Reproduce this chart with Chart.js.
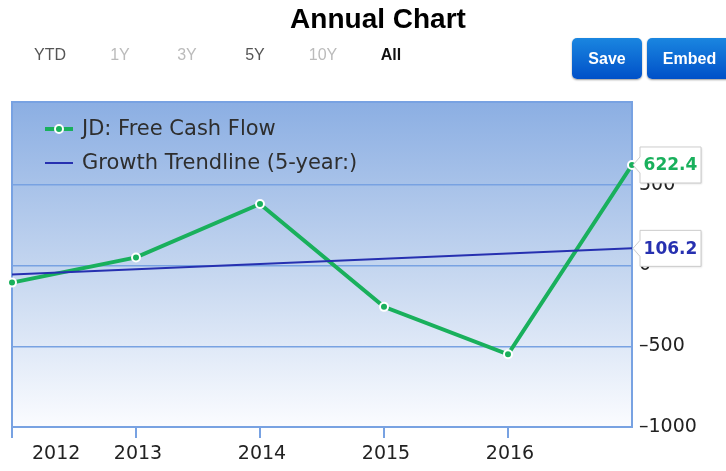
<!DOCTYPE html>
<html>
<head>
<meta charset="utf-8">
<script src="https://cdn.jsdelivr.net/npm/chart.js@4.4.0/dist/chart.umd.min.js"></script>
<style>
  body { margin: 0; background: #fff; width: 726px; height: 471px; overflow: hidden; position: relative; font-family: "Liberation Sans", Arial, sans-serif; }
  #chart { position: absolute; left: 0; top: 0; }
  h1 { position: absolute; left: 0; width: 756px; top: 3px; margin: 0; text-align: center; font-size: 28px; font-weight: bold; color: #000; }
  .range { position: absolute; top: 46px; font-family: "Liberation Sans Narrow", "Liberation Sans", Arial, sans-serif; font-size: 16px; transform: translateX(-50%); color: #555; }
  .range.off { color: #bbb; }
  .range.on { color: #111; font-weight: bold; }
  .btn { position: absolute; top: 38px; height: 41px; line-height: 41px; border-radius: 5px; color: #fff; font-weight: bold; font-size: 16px; text-align: center;
         font-family: "Liberation Sans Narrow", "Liberation Sans", Arial, sans-serif;
         background: linear-gradient(#1a86e0, #0050c8); box-shadow: 0 1px 2px rgba(0,0,0,0.4); }
</style>
</head>
<body>
<canvas id="chart" width="726" height="471"></canvas>
<h1>Annual Chart</h1>
<span class="range" style="left:50px">YTD</span>
<span class="range off" style="left:120px">1Y</span>
<span class="range off" style="left:187px">3Y</span>
<span class="range" style="left:255px">5Y</span>
<span class="range off" style="left:323px">10Y</span>
<span class="range on" style="left:391px">All</span>
<div class="btn" style="left:572px;width:70px">Save</div>
<div class="btn" style="left:647px;width:85px">Embed</div>
<script>
const years = ['2012', '2013', '2014', '2015', '2016', '2017'];
const xTickLabels = ['2012', '2013', '2014', '2015', '2016'];
const freeCashFlow = [-106, 50, 381, -256, -550, 622.4];
const trendline = [-56, -23.6, 8.8, 41.4, 73.8, 106.2];
const seriesNames = ['JD: Free Cash Flow', 'Growth Trendline (5-year:)'];

const green = '#19b05c';
const blue = '#2630b0';
const gridBlue = '#78a2e2';

// gradient behind the plot, plus the left/top frame lines
const plotBackground = {
    id: 'plotBackground',
    beforeDraw(chart) {
        const { ctx, chartArea: a } = chart;
        const g = ctx.createLinearGradient(0, a.top, 0, a.bottom);
        g.addColorStop(0, '#8cafe3');
        g.addColorStop(0.5, '#c3d5ef');
        g.addColorStop(1, '#fbfcff');
        ctx.save();
        ctx.fillStyle = g;
        ctx.fillRect(a.left, a.top - 2, a.right - a.left, a.bottom - a.top + 2);
        ctx.restore();
    },
    beforeDatasetsDraw(chart) {
        const { ctx, chartArea: a } = chart;
        ctx.save();
        ctx.strokeStyle = gridBlue;
        ctx.lineWidth = 2;
        ctx.beginPath();
        ctx.moveTo(a.left, a.bottom);
        ctx.lineTo(a.left, a.top - 2);
        ctx.lineTo(a.right, a.top - 2);
        ctx.lineTo(a.right, a.top);
        ctx.stroke();
        ctx.restore();
    }
};

// x labels, first one nudged inside like the original
const xLabels = {
    id: 'xLabels',
    afterDraw(chart) {
        const { ctx, chartArea: a } = chart;
        const x = chart.scales.x;
        ctx.save();
        ctx.font = '19px "DejaVu Sans"';
        ctx.fillStyle = '#222';
        ctx.textAlign = 'center';
        ctx.textBaseline = 'middle';
        xTickLabels.forEach((lab, i) => {
            let px = x.getPixelForTick(i) + 2;
            const w = ctx.measureText(lab).width;
            px = Math.max(px, a.left + 20 + w / 2);
            ctx.fillText(lab, px, a.bottom + 27);
        });
        ctx.restore();
    }
};

// legend inside the plot area
const insideLegend = {
    id: 'insideLegend',
    afterDatasetsDraw(chart) {
        const { ctx, chartArea: a } = chart;
        ctx.save();
        chart.data.datasets.forEach((ds, i) => {
            const y = a.top + 25 + i * 34;
            const x0 = a.left + 33;
            ctx.strokeStyle = ds.borderColor;
            ctx.lineWidth = ds.borderWidth;
            ctx.beginPath();
            ctx.moveTo(x0, y);
            ctx.lineTo(x0 + 28, y);
            ctx.stroke();
            if (ds.pointRadius > 0) {
                ctx.beginPath();
                ctx.arc(x0 + 14, y, ds.pointRadius, 0, Math.PI * 2);
                ctx.fillStyle = ds.pointBackgroundColor;
                ctx.fill();
                ctx.lineWidth = ds.pointBorderWidth;
                ctx.strokeStyle = ds.pointBorderColor;
                ctx.stroke();
            }
            ctx.font = '21px "DejaVu Sans"';
            ctx.fillStyle = '#2e2e2e';
            ctx.textBaseline = 'middle';
            ctx.textAlign = 'left';
            ctx.fillText(ds.label, x0 + 37, y + 1);
        });
        ctx.restore();
    }
};

// callout with the last value of each series
const lastValueTags = {
    id: 'lastValueTags',
    afterDraw(chart) {
        const { ctx } = chart;
        ctx.save();
        chart.data.datasets.forEach((ds, i) => {
            const meta = chart.getDatasetMeta(i);
            const pt = meta.data[meta.data.length - 1];
            const v = ds.data[ds.data.length - 1];
            const x = pt.x + 1, y = pt.y;
            const l = x + 7, r = x + 68, t = y - 18, b = y + 18;
            ctx.beginPath();
            ctx.moveTo(x, y);
            ctx.lineTo(l, y - 8);
            ctx.lineTo(l, t);
            ctx.lineTo(r, t);
            ctx.lineTo(r, b);
            ctx.lineTo(l, b);
            ctx.lineTo(l, y + 8);
            ctx.closePath();
            ctx.shadowColor = 'rgba(0,0,0,0.15)';
            ctx.shadowOffsetX = 1;
            ctx.shadowOffsetY = 1;
            ctx.shadowBlur = 2;
            ctx.fillStyle = '#fff';
            ctx.fill();
            ctx.shadowColor = 'transparent';
            ctx.strokeStyle = '#cccccc';
            ctx.lineWidth = 1;
            ctx.stroke();
            ctx.font = 'bold 17px "DejaVu Sans"';
            ctx.fillStyle = ds.borderColor;
            ctx.textAlign = 'center';
            ctx.textBaseline = 'middle';
            ctx.fillText(v.toFixed(1), (l + r) / 2, y + 1);
        });
        ctx.restore();
    }
};

const ctx = document.getElementById('chart');
const myChart = new Chart(ctx, {
    type: 'line',
    data: {
        labels: years,
        datasets: [{
            label: seriesNames[0],
            data: freeCashFlow,
            borderColor: green,
            borderWidth: 4,
            pointRadius: 4,
            pointBackgroundColor: green,
            pointBorderColor: '#fff',
            pointBorderWidth: 2,
            tension: 0,
            order: 1
        }, {
            label: seriesNames[1],
            data: trendline,
            borderColor: blue,
            borderWidth: 2,
            pointRadius: 0,
            tension: 0,
            order: 0
        }]
    },
    options: {
        responsive: false,
        animation: false,
        layout: {
            padding: { top: 104, left: 12, right: 0, bottom: 0 }
        },
        plugins: {
            legend: { display: false },
            tooltip: { enabled: false }
        },
        scales: {
            x: {
                type: 'category',
                offset: false,
                ticks: { display: false },
                grid: {
                    drawOnChartArea: false,
                    drawTicks: true,
                    tickLength: 11,
                    lineWidth: 2,
                    tickColor: c => c.index < xTickLabels.length ? gridBlue : 'rgba(0,0,0,0)'
                },
                border: { color: gridBlue, width: 2 },
                afterFit: s => { s.height = 44; }
            },
            y: {
                position: 'right',
                min: -1000,
                max: 1000,
                ticks: {
                    stepSize: 500,
                    padding: 7,
                    color: '#222',
                    font: { family: 'DejaVu Sans', size: 19 },
                    callback: v => v === 1000 ? '' : String(v).replace('-', '\u2013')
                },
                grid: {
                    color: c => (c.tick && c.tick.value === 1000) ? 'rgba(0,0,0,0)' : gridBlue,
                    drawTicks: false,
                    lineWidth: 1.5
                },
                border: { color: gridBlue, width: 2 },
                afterFit: s => { s.width = 94; }
            }
        }
    },
    plugins: [plotBackground, xLabels, insideLegend, lastValueTags]
});
</script>
</body>
</html>
